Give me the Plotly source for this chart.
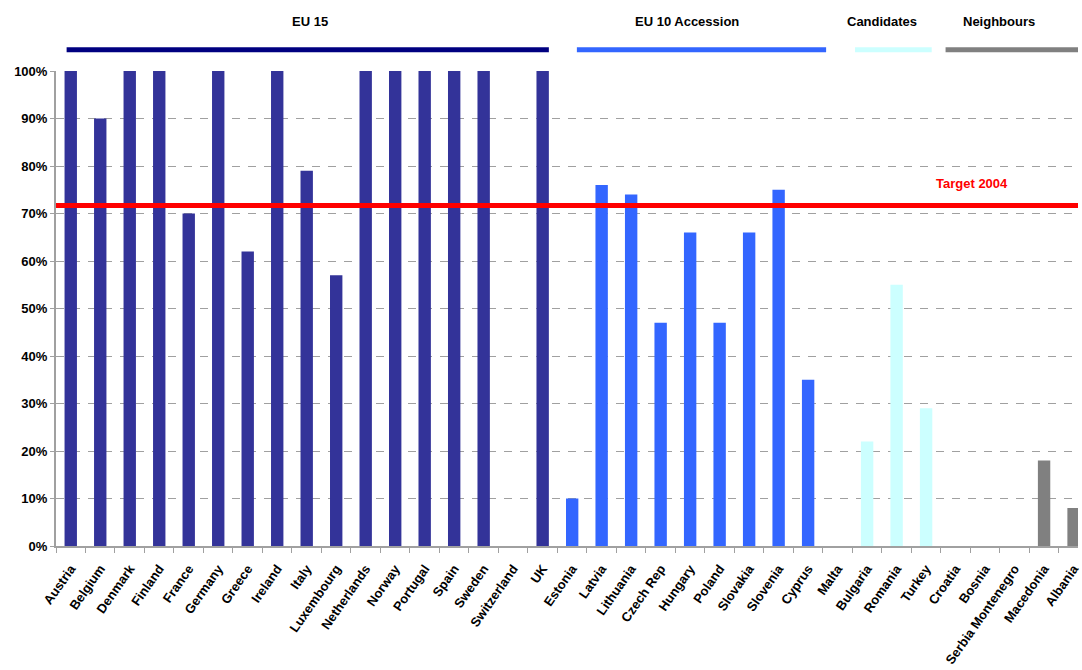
import plotly.graph_objects as go

countries = ["Austria", "Belgium", "Denmark", "Finland", "France", "Germany", "Greece",
             "Ireland", "Italy", "Luxembourg", "Netherlands", "Norway", "Portugal", "Spain",
             "Sweden", "Switzerland", "UK",
             "Estonia", "Latvia", "Lithuania", "Czech Rep", "Hungary", "Poland", "Slovakia",
             "Slovenia", "Cyprus", "Malta",
             "Bulgaria", "Romania", "Turkey",
             "Croatia", "Bosnia", "Serbia Montenegro", "Macedonia", "Albania"]
values = [100, 90, 100, 100, 70, 100, 62, 100, 79, 57, 100, 100, 100, 100, 100, 0, 100,
          10, 76, 74, 47, 66, 47, 66, 75, 35, 0,
          22, 55, 29,
          0, 0, 0, 18, 8]
groups = ["EU 15"] * 17 + ["EU 10 Accession"] * 10 + ["Candidates"] * 3 + ["Neighbours"] * 5
group_names = ["EU 15", "EU 10 Accession", "Candidates", "Neighbours"]
group_colors = ["#333399", "#3366FF", "#CCFFFF", "#808080"]
line_colors = ["#000080", "#3366FF", "#CCFFFF", "#808080"]
target_value = 71.7
target_label = "Target 2004"

FONT = "Arial, Liberation Sans, sans-serif"

fig = go.Figure()
for g, c in zip(group_names, group_colors):
    xs = [x for x, gg in zip(countries, groups) if gg == g]
    ys = [v for v, gg in zip(values, groups) if gg == g]
    fig.add_trace(go.Bar(x=xs, y=ys, marker=dict(color=c, line=dict(width=0)),
                         width=0.42, name=g, showlegend=False))

# group header lines and labels (x in category-index units)
line_spans = [(-0.14, 16.21), (17.16, 25.61), (26.59, 29.19), (29.66, 34.2)]
label_x = [8.1, 20.9, 27.52, 31.48]
for g, lc, (x0, x1), lx in zip(group_names, line_colors, line_spans, label_x):
    fig.add_shape(type="line", xref="x", yref="paper", x0=x0, x1=x1, y0=1.0446, y1=1.0446,
                  line=dict(color=lc, width=5))
    fig.add_annotation(x=lx, y=1.1045, xref="x", yref="paper", text=f"<b>{g}</b>",
                       xanchor="center", yanchor="middle",
                       showarrow=False, font=dict(family=FONT, size=13, color="black"))

fig.add_shape(type="line", xref="paper", yref="y", x0=0, x1=1, y0=target_value, y1=target_value,
              line=dict(color="#FF0000", width=5), layer="above")
fig.add_annotation(x=30.57, y=76.4, xref="x", yref="y", text=f"<b>{target_label}</b>",
                   xanchor="center", yanchor="middle",
                   showarrow=False, font=dict(family=FONT, size=13, color="#FF0000"))

fig.update_layout(
    width=1082, height=670,
    margin=dict(l=56, r=0, t=71, b=124),
    plot_bgcolor="white", paper_bgcolor="white",
    font=dict(family=FONT, size=13, color="black"),
    xaxis=dict(type="category", categoryorder="array", categoryarray=countries,
               range=[-0.5, 34.15], tickangle=-55, tickson="boundaries",
               ticks="outside", ticklen=5, tickcolor="#A0A0A0",
               showline=True, linecolor="#A0A0A0", linewidth=2,
               showgrid=False, ticklabelstandoff=8,
               tickfont=dict(family=FONT, size=13, color="black", weight="bold")),
    yaxis=dict(range=[0, 100], dtick=10, ticksuffix="%",
               ticks="outside", ticklen=4, tickcolor="#A0A0A0",
               showline=True, linecolor="#A0A0A0", linewidth=2,
               showgrid=True, gridcolor="#A0A0A0", griddash="8px,8px", gridwidth=1,
               zeroline=False,
               tickfont=dict(family=FONT, size=13, color="black", weight="bold")),
)

fig.write_html("out.html")
